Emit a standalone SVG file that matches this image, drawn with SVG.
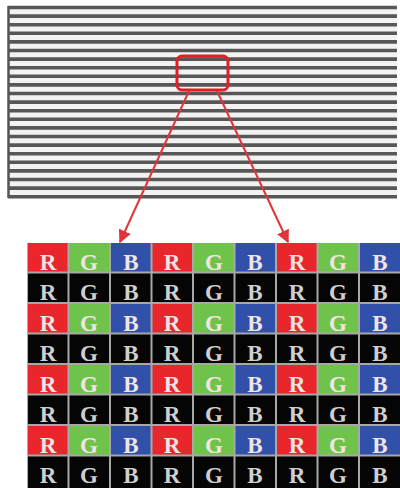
<svg xmlns="http://www.w3.org/2000/svg" width="400" height="488" viewBox="0 0 400 488">
<defs>
<style>
.stripe{stroke:#575757;stroke-width:3.6}
.r{fill:#e8262b}.g{fill:#6fc34b}.b{fill:#3050aa}.k{fill:#050505}
.t{font-family:"Liberation Serif","Times New Roman",serif;font-size:23px;font-weight:bold;text-anchor:middle}
.tc{fill:#f2e4e4}.tk{fill:#cfcfcf}
.conn{stroke:#e0343a;stroke-width:2;fill:none}
</style>
<marker id="ah" viewBox="0 0 10 10" refX="9" refY="5" markerWidth="6.5" markerHeight="6.5" orient="auto" markerUnits="strokeWidth">
<path d="M0,0 L10,5 L0,10 z" fill="#e0343a"/>
</marker>
</defs>
<rect width="400" height="488" fill="#ffffff"/>
<g id="panel">
<rect x="8" y="7.5" width="389" height="189" fill="#f2f2f2"/>
<line x1="8.5" y1="6" x2="8.5" y2="198" stroke="#555" stroke-width="2.5"/>
<g id="stripes">
<line class="stripe" x1="8" y1="7.5" x2="397" y2="7.5"/>
<line class="stripe" x1="8" y1="16.1" x2="397" y2="16.1"/>
<line class="stripe" x1="8" y1="24.7" x2="397" y2="24.7"/>
<line class="stripe" x1="8" y1="33.3" x2="397" y2="33.3"/>
<line class="stripe" x1="8" y1="41.9" x2="397" y2="41.9"/>
<line class="stripe" x1="8" y1="50.5" x2="397" y2="50.5"/>
<line class="stripe" x1="8" y1="59.1" x2="397" y2="59.1"/>
<line class="stripe" x1="8" y1="67.7" x2="397" y2="67.7"/>
<line class="stripe" x1="8" y1="76.3" x2="397" y2="76.3"/>
<line class="stripe" x1="8" y1="84.9" x2="397" y2="84.9"/>
<line class="stripe" x1="8" y1="93.5" x2="397" y2="93.5"/>
<line class="stripe" x1="8" y1="102.1" x2="397" y2="102.1"/>
<line class="stripe" x1="8" y1="110.7" x2="397" y2="110.7"/>
<line class="stripe" x1="8" y1="119.3" x2="397" y2="119.3"/>
<line class="stripe" x1="8" y1="127.9" x2="397" y2="127.9"/>
<line class="stripe" x1="8" y1="136.5" x2="397" y2="136.5"/>
<line class="stripe" x1="8" y1="145.1" x2="397" y2="145.1"/>
<line class="stripe" x1="8" y1="153.7" x2="397" y2="153.7"/>
<line class="stripe" x1="8" y1="162.3" x2="397" y2="162.3"/>
<line class="stripe" x1="8" y1="170.9" x2="397" y2="170.9"/>
<line class="stripe" x1="8" y1="179.5" x2="397" y2="179.5"/>
<line class="stripe" x1="8" y1="188.1" x2="397" y2="188.1"/>
<line class="stripe" x1="8" y1="196.7" x2="397" y2="196.7"/>
</g>
</g>
<g id="zoombox">
<rect x="177" y="56" width="51" height="34" rx="5" fill="none" stroke="#e01e24" stroke-width="3"/>
</g>
<g id="connectors">
<line class="conn" x1="189" y1="91" x2="120" y2="242" marker-end="url(#ah)"/>
<line class="conn" x1="217" y1="91" x2="288" y2="242" marker-end="url(#ah)"/>
</g>
<g id="grid">
<rect x="27" y="243" width="373" height="245" fill="#a8a8a8"/>
<g id="row1">
<rect class="r" x="28" y="243" width="39.5" height="28.5"/><rect class="g" x="69.5" y="243" width="39.5" height="28.5"/><rect class="b" x="111" y="243" width="39.5" height="28.5"/>
<rect class="r" x="152.5" y="243" width="39.5" height="28.5"/><rect class="g" x="194" y="243" width="39.5" height="28.5"/><rect class="b" x="235.5" y="243" width="39.5" height="28.5"/>
<rect class="r" x="277" y="243" width="39.5" height="28.5"/><rect class="g" x="318.5" y="243" width="39.5" height="28.5"/><rect class="b" x="360" y="243" width="40" height="28.5"/>
</g>
<g id="row2">
<rect class="k" x="28" y="273.5" width="39.5" height="28.5"/><rect class="k" x="69.5" y="273.5" width="39.5" height="28.5"/><rect class="k" x="111" y="273.5" width="39.5" height="28.5"/>
<rect class="k" x="152.5" y="273.5" width="39.5" height="28.5"/><rect class="k" x="194" y="273.5" width="39.5" height="28.5"/><rect class="k" x="235.5" y="273.5" width="39.5" height="28.5"/>
<rect class="k" x="277" y="273.5" width="39.5" height="28.5"/><rect class="k" x="318.5" y="273.5" width="39.5" height="28.5"/><rect class="k" x="360" y="273.5" width="40" height="28.5"/>
</g>
<g id="row3">
<rect class="r" x="28" y="304" width="39.5" height="28.5"/><rect class="g" x="69.5" y="304" width="39.5" height="28.5"/><rect class="b" x="111" y="304" width="39.5" height="28.5"/>
<rect class="r" x="152.5" y="304" width="39.5" height="28.5"/><rect class="g" x="194" y="304" width="39.5" height="28.5"/><rect class="b" x="235.5" y="304" width="39.5" height="28.5"/>
<rect class="r" x="277" y="304" width="39.5" height="28.5"/><rect class="g" x="318.5" y="304" width="39.5" height="28.5"/><rect class="b" x="360" y="304" width="40" height="28.5"/>
</g>
<g id="row4">
<rect class="k" x="28" y="334.5" width="39.5" height="28.5"/><rect class="k" x="69.5" y="334.5" width="39.5" height="28.5"/><rect class="k" x="111" y="334.5" width="39.5" height="28.5"/>
<rect class="k" x="152.5" y="334.5" width="39.5" height="28.5"/><rect class="k" x="194" y="334.5" width="39.5" height="28.5"/><rect class="k" x="235.5" y="334.5" width="39.5" height="28.5"/>
<rect class="k" x="277" y="334.5" width="39.5" height="28.5"/><rect class="k" x="318.5" y="334.5" width="39.5" height="28.5"/><rect class="k" x="360" y="334.5" width="40" height="28.5"/>
</g>
<g id="row5">
<rect class="r" x="28" y="365" width="39.5" height="28.5"/><rect class="g" x="69.5" y="365" width="39.5" height="28.5"/><rect class="b" x="111" y="365" width="39.5" height="28.5"/>
<rect class="r" x="152.5" y="365" width="39.5" height="28.5"/><rect class="g" x="194" y="365" width="39.5" height="28.5"/><rect class="b" x="235.5" y="365" width="39.5" height="28.5"/>
<rect class="r" x="277" y="365" width="39.5" height="28.5"/><rect class="g" x="318.5" y="365" width="39.5" height="28.5"/><rect class="b" x="360" y="365" width="40" height="28.5"/>
</g>
<g id="row6">
<rect class="k" x="28" y="395.5" width="39.5" height="28.5"/><rect class="k" x="69.5" y="395.5" width="39.5" height="28.5"/><rect class="k" x="111" y="395.5" width="39.5" height="28.5"/>
<rect class="k" x="152.5" y="395.5" width="39.5" height="28.5"/><rect class="k" x="194" y="395.5" width="39.5" height="28.5"/><rect class="k" x="235.5" y="395.5" width="39.5" height="28.5"/>
<rect class="k" x="277" y="395.5" width="39.5" height="28.5"/><rect class="k" x="318.5" y="395.5" width="39.5" height="28.5"/><rect class="k" x="360" y="395.5" width="40" height="28.5"/>
</g>
<g id="row7">
<rect class="r" x="28" y="426" width="39.5" height="28.5"/><rect class="g" x="69.5" y="426" width="39.5" height="28.5"/><rect class="b" x="111" y="426" width="39.5" height="28.5"/>
<rect class="r" x="152.5" y="426" width="39.5" height="28.5"/><rect class="g" x="194" y="426" width="39.5" height="28.5"/><rect class="b" x="235.5" y="426" width="39.5" height="28.5"/>
<rect class="r" x="277" y="426" width="39.5" height="28.5"/><rect class="g" x="318.5" y="426" width="39.5" height="28.5"/><rect class="b" x="360" y="426" width="40" height="28.5"/>
</g>
<g id="row8">
<rect class="k" x="28" y="456.5" width="39.5" height="31.5"/><rect class="k" x="69.5" y="456.5" width="39.5" height="31.5"/><rect class="k" x="111" y="456.5" width="39.5" height="31.5"/>
<rect class="k" x="152.5" y="456.5" width="39.5" height="31.5"/><rect class="k" x="194" y="456.5" width="39.5" height="31.5"/><rect class="k" x="235.5" y="456.5" width="39.5" height="31.5"/>
<rect class="k" x="277" y="456.5" width="39.5" height="31.5"/><rect class="k" x="318.5" y="456.5" width="39.5" height="31.5"/><rect class="k" x="360" y="456.5" width="40" height="31.5"/>
</g>
<g id="labels">
<g class="t tc">
<text x="48" y="270">R</text><text x="89" y="270">G</text><text x="131" y="270">B</text><text x="172" y="270">R</text><text x="214" y="270">G</text><text x="255" y="270">B</text><text x="297" y="270">R</text><text x="338" y="270">G</text><text x="380" y="270">B</text>
<text x="48" y="331">R</text><text x="89" y="331">G</text><text x="131" y="331">B</text><text x="172" y="331">R</text><text x="214" y="331">G</text><text x="255" y="331">B</text><text x="297" y="331">R</text><text x="338" y="331">G</text><text x="380" y="331">B</text>
<text x="48" y="392">R</text><text x="89" y="392">G</text><text x="131" y="392">B</text><text x="172" y="392">R</text><text x="214" y="392">G</text><text x="255" y="392">B</text><text x="297" y="392">R</text><text x="338" y="392">G</text><text x="380" y="392">B</text>
<text x="48" y="453">R</text><text x="89" y="453">G</text><text x="131" y="453">B</text><text x="172" y="453">R</text><text x="214" y="453">G</text><text x="255" y="453">B</text><text x="297" y="453">R</text><text x="338" y="453">G</text><text x="380" y="453">B</text>
</g>
<g class="t tk">
<text x="48" y="300">R</text><text x="89" y="300">G</text><text x="131" y="300">B</text><text x="172" y="300">R</text><text x="214" y="300">G</text><text x="255" y="300">B</text><text x="297" y="300">R</text><text x="338" y="300">G</text><text x="380" y="300">B</text>
<text x="48" y="361">R</text><text x="89" y="361">G</text><text x="131" y="361">B</text><text x="172" y="361">R</text><text x="214" y="361">G</text><text x="255" y="361">B</text><text x="297" y="361">R</text><text x="338" y="361">G</text><text x="380" y="361">B</text>
<text x="48" y="422">R</text><text x="89" y="422">G</text><text x="131" y="422">B</text><text x="172" y="422">R</text><text x="214" y="422">G</text><text x="255" y="422">B</text><text x="297" y="422">R</text><text x="338" y="422">G</text><text x="380" y="422">B</text>
<text x="48" y="483">R</text><text x="89" y="483">G</text><text x="131" y="483">B</text><text x="172" y="483">R</text><text x="214" y="483">G</text><text x="255" y="483">B</text><text x="297" y="483">R</text><text x="338" y="483">G</text><text x="380" y="483">B</text>
</g>
</g>
</g>
</svg>
